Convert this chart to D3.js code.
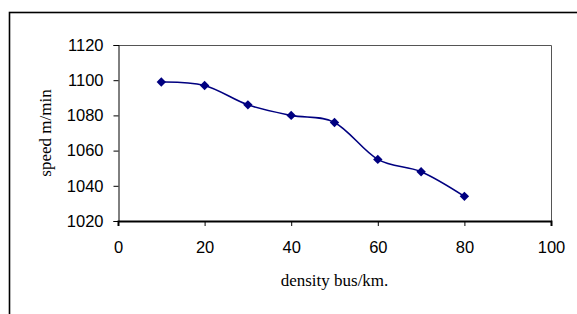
<!DOCTYPE html>
<html>
<head>
<meta charset="utf-8">
<script src="https://cdn.jsdelivr.net/npm/d3@7"></script>
<style>
  body { margin: 0; background: #fff; }
  svg { display: block; }
</style>
</head>
<body>
<svg id="chart" width="577" height="314"></svg>
<script>
// values
var density = [10, 20, 30, 40, 50, 60, 70, 80];
var speed = [1099, 1097, 1086, 1080, 1076, 1055, 1048, 1034];
var xTicks = [0, 20, 40, 60, 80, 100];
var yTicks = [1020, 1040, 1060, 1080, 1100, 1120];

var svg = d3.select("#chart");
var plotL = 118, plotR = 551, plotT = 45, plotB = 221;

// outer frame (right and bottom edges fall outside the picture)
svg.append("rect")
    .attr("x", 9.5).attr("y", 12.5)
    .attr("width", 700).attr("height", 400)
    .attr("fill", "none").attr("stroke", "#000").attr("stroke-width", 1.6);

var x = d3.scaleLinear().domain([0, 100]).range([plotL, plotR]);
var y = d3.scaleLinear().domain([1020, 1120]).range([plotB, plotT]);

// plot area box
svg.append("path")
    .attr("d", "M" + plotL + "," + (plotT + 0.5) + "H" + (plotR + 0.5) + "V" + plotB)
    .attr("fill", "none").attr("stroke", "#555").attr("stroke-width", 1);

var yAxis = svg.append("g")
    .attr("transform", "translate(" + (plotL + 0.5) + ",0)")
    .call(d3.axisLeft(y).tickValues(yTicks).tickSize(5).tickPadding(10).tickFormat(d3.format("d")));

var xAxis = svg.append("g")
    .attr("transform", "translate(0," + plotB + ")")
    .call(d3.axisBottom(x).tickValues(xTicks).tickSize(5).tickPadding(15));

[xAxis, yAxis].forEach(function(g) {
    g.selectAll("text")
        .attr("font-family", "Liberation Sans, Arial, sans-serif")
        .attr("font-size", 16.5)
        .attr("fill", "#000");
    g.selectAll("line").attr("stroke", "#000");
    g.select(".domain").attr("stroke", "#000");
});
xAxis.select(".domain").attr("stroke-width", 2);

var line = d3.line()
    .x(function(d, i) { return x(density[i]); })
    .y(function(d) { return y(d); })
    .curve(d3.curveCardinal.tension(0));

svg.append("path")
    .datum(speed)
    .attr("d", line)
    .attr("fill", "none")
    .attr("stroke", "#000080")
    .attr("stroke-width", 1.6);

var marker = d3.symbol().type(d3.symbolSquare).size(44);
svg.selectAll(".pt")
    .data(speed)
    .enter().append("path")
    .attr("class", "pt")
    .attr("d", marker)
    .attr("transform", function(d, i) { return "translate(" + x(density[i]) + "," + y(d) + ") rotate(45)"; })
    .attr("fill", "#000080");

svg.append("text")
    .attr("x", (plotL + plotR) / 2)
    .attr("y", 286)
    .attr("text-anchor", "middle")
    .attr("font-family", "Liberation Serif, Times New Roman, serif")
    .attr("font-size", 17)
    .text("density bus/km.");

svg.append("text")
    .attr("transform", "translate(51," + (plotT + plotB) / 2 + ") rotate(-90)")
    .attr("text-anchor", "middle")
    .attr("font-family", "Liberation Serif, Times New Roman, serif")
    .attr("font-size", 17)
    .text("speed m/min");
</script>
</body>
</html>
